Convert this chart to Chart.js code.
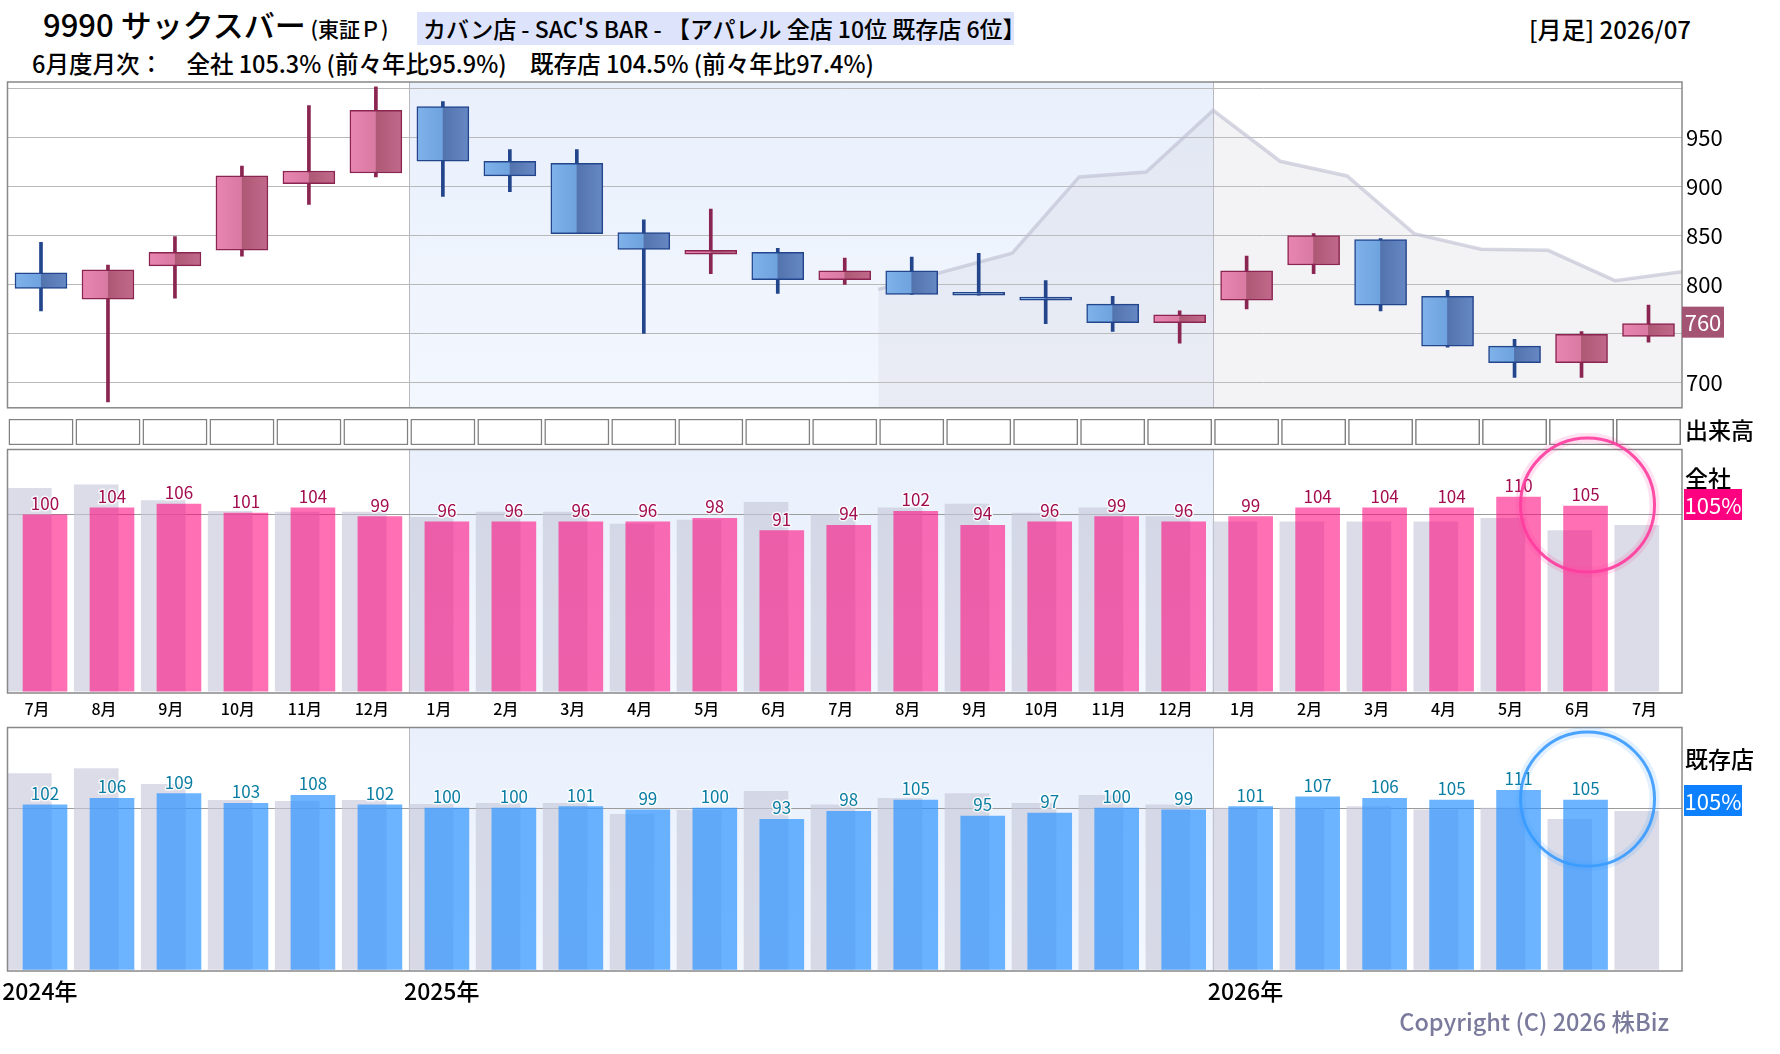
<!DOCTYPE html>
<html lang="ja">
<head>
<meta charset="utf-8">
<title>9990 サックスバー 月足</title>
<script src="https://cdn.jsdelivr.net/npm/chart.js@4/dist/chart.umd.min.js"></script>
<style>
  body { margin: 0; background: #fff; font-family: "Noto Sans CJK JP", "Noto Sans", sans-serif; color: #000; }
  #page { position: relative; width: 1780px; height: 1054px; overflow: hidden; }
  canvas { position: absolute; left: 0; }
  .t { position: absolute; white-space: nowrap; line-height: 1; }
  .badge { position: absolute; left: 1684px; width: 58px; height: 31px; line-height: 31px; color: #fff; font-size: 22px; text-align: center; }
</style>
</head>
<body>
<div id="page">
  <div class="t" style="left:43px; top:8px; font-size:31px; font-weight:500;">9990 サックスバー<span style="font-size:21px;"> (東証Ｐ)</span></div>
  <div class="t" style="left:417px; top:12px; width:597px; height:33px; line-height:33px; background:#dce3fb; font-size:23px; font-weight:500; padding-left:6px; box-sizing:border-box;">カバン店 - SAC'S BAR - 【アパレル 全店 10位 既存店 6位】</div>
  <div class="t" style="right:89px; top:17px; font-size:24px; font-weight:500;">[月足] 2026/07</div>
  <div class="t" style="left:32px; top:52px; font-size:23.5px; font-weight:500;">6月度月次：　全社 105.3% (前々年比95.9%)　既存店 104.5% (前々年比97.4%)</div>

  <canvas id="price" width="1780" height="363" style="top:62px;"></canvas>
  <canvas id="volume" width="1780" height="26" style="top:419px;"></canvas>
  <canvas id="allStore" width="1780" height="293" style="top:430px;"></canvas>
  <canvas id="existStore" width="1780" height="304" style="top:707px;"></canvas>

  <div class="t" style="left:1685px; top:418px; font-size:23px; font-weight:500;">出来高</div>
  <div class="t" style="left:1685px; top:466px; font-size:23px; font-weight:500;">全社</div>
  <div class="badge" style="top:489px; background:#ff0080;">105%</div>
  <div class="t" style="left:1685px; top:747px; font-size:23px; font-weight:500;">既存店</div>
  <div class="badge" style="top:785px; background:#0d80ff;">105%</div>

  <div class="t" style="right:111px; top:1010px; font-size:23.5px; font-weight:500; color:#7a7a9c;">Copyright (C) 2026 株Biz</div>
</div>

<script>
"use strict";

// ── 데이터 (2024/07 〜 2026/07 월봉) ─────────────────────
const months = ["7月","8月","9月","10月","11月","12月","1月","2月","3月","4月","5月","6月",
                "7月","8月","9月","10月","11月","12月","1月","2月","3月","4月","5月","6月","7月"];
const yearLabels = ["2024年", "2025年", "2026年"];

const candleOpen  = [812, 785, 819, 835, 903, 914, 982, 926, 924, 853, 831, 833, 805, 814, 790, 787, 780, 761, 784, 820, 846, 788, 737, 720, 747];
const candleHigh  = [843, 820, 849, 921, 983, 1002, 987, 938, 938, 866, 877, 837, 827, 828, 832, 804, 788, 773, 829, 852, 847, 794, 744, 752, 779];
const candleLow   = [773, 680, 786, 829, 882, 910, 890, 895, 852, 750, 811, 791, 800, 790, 789, 760, 752, 740, 775, 811, 773, 736, 705, 705, 741];
const candleClose = [796, 815, 833, 911, 916, 978, 926, 911, 852, 836, 835, 805, 814, 790, 789, 784, 761, 769, 814, 850, 779, 737, 720, 749, 760];

// 월 경계(0..25) 기준 회색 라인
const trendLine = [null, null, null, null, null, null, null, null, null, null, null, null, null,
                   795, null, 832, 910, 915, 978, 926, 911, 852, 836, 835, 804, 813];

const priceTicks      = [700, 750, 800, 850, 900, 950, 1000];
const priceTickLabels = [700, 800, 850, 900, 950];

// 월차 (전년비 %) — 회색은 전년 동월
const allStores     = [100, 104, 106, 101, 104, 99, 96, 96, 96, 96, 98, 91, 94, 102, 94, 96, 99, 96, 99, 104, 104, 104, 110, 105, null];
const allStoresPrev = [115, 117, 108, 102, 101.5, 101.5, 98.5, 101.5, 101.5, 94.7, 97, 107, 100, 104, 106, 101, 104, 99, 96, 96, 96, 96, 98, 91, 94];
const existing      = [102, 106, 109, 103, 108, 102, 100, 100, 101, 99, 100, 93, 98, 105, 95, 97, 100, 99, 101, 107, 106, 105, 111, 105, null];
const existingPrev  = [121.5, 124.6, 114.7, 104.8, 104.2, 104.8, 102.3, 102.9, 102.9, 96.2, 98.7, 110.4, 102, 106, 109, 103, 108, 102, 100, 100, 101, 99, 100, 93, 98];

// ── 공통 설정 ───────────────────────────────────────────
const FONT = '"Noto Sans CJK JP", "Noto Sans", sans-serif';
Chart.defaults.font.family = FONT;
Chart.defaults.animation = false;
Chart.defaults.plugins.legend.display = false;
Chart.defaults.plugins.tooltip.enabled = false;

const AXIS_W = 98;      // 오른쪽 라벨 영역
const BODY_W = 52;      // 캔들 몸통 폭
const BAR_W  = 44;      // 월차 막대 폭
const CUR_SHIFT  = 0.06;
const PREV_SHIFT = -0.175;

const yearStartIdx = [0].concat(months.map((m, i) => (m === "1月" && i > 0) ? i : -1).filter(i => i > 0));
const isUp = i => candleClose[i] >= candleOpen[i];

const xLinear = () => ({ type: "linear", min: -0.5, max: 24.5, offset: false, display: false });

// 2025년 구간 배경 + 연도 구분선
const yearBand = {
  id: "yearBand",
  beforeDraw(chart) {
    const { ctx, chartArea: a, scales: { x } } = chart;
    const x0 = x.getPixelForValue(yearStartIdx[1] - 0.5);
    const x1 = x.getPixelForValue(yearStartIdx[2] - 0.5);
    const g = ctx.createLinearGradient(0, a.top, 0, a.bottom);
    g.addColorStop(0, "#e9f0fc");
    g.addColorStop(1, "#f3f7fe");
    ctx.save();
    ctx.fillStyle = g;
    ctx.fillRect(x0, a.top, x1 - x0, a.bottom - a.top);
    ctx.strokeStyle = "#b8b8c0";
    ctx.lineWidth = 1;
    [x0, x1].forEach(px => {
      ctx.beginPath();
      ctx.moveTo(Math.round(px) + 0.5, a.top);
      ctx.lineTo(Math.round(px) + 0.5, a.bottom);
      ctx.stroke();
    });
    ctx.restore();
  },
};

const frame = {
  id: "frame",
  afterDraw(chart) {
    const { ctx, chartArea: a } = chart;
    ctx.save();
    ctx.strokeStyle = "#888";
    ctx.lineWidth = 1.5;
    ctx.strokeRect(a.left, a.top, a.right - a.left, a.bottom - a.top);
    ctx.restore();
  },
};

// ── 캔들 몸통 그라디언트 ─────────────────────────────────
function bodyFill(c) {
  const i = c.dataIndex;
  const xs = c.chart.scales && c.chart.scales.x;
  if (i === undefined || !xs) return "#d97aa3";
  const cx = xs.getPixelForValue(i);
  if (!isFinite(cx)) return isUp(i) ? "#d97aa3" : "#6ea3df";
  const g = c.chart.ctx.createLinearGradient(cx - BODY_W / 2, 0, cx + BODY_W / 2, 0);
  if (isUp(i)) {
    g.addColorStop(0, "#e886b0"); g.addColorStop(0.49, "#d97aa3");
    g.addColorStop(0.5, "#ad5874"); g.addColorStop(1, "#c2698b");
  } else {
    g.addColorStop(0, "#80b2ea"); g.addColorStop(0.49, "#6ea3df");
    g.addColorStop(0.5, "#5373ad"); g.addColorStop(1, "#6688c4");
  }
  return g;
}
const edgeColor = c => (c.dataIndex !== undefined && isUp(c.dataIndex)) ? "#8a2450" : "#23458c";

// 현재가 배지
const lastPrice = {
  id: "lastPrice",
  afterDraw(chart) {
    const { ctx, chartArea: a, scales: { y } } = chart;
    const v = candleClose[candleClose.length - 1];
    const py = y.getPixelForValue(v);
    ctx.save();
    ctx.fillStyle = "#a35472";
    ctx.fillRect(a.right, py - 17, 42, 31);
    ctx.fillStyle = "#fff";
    ctx.font = "22px " + FONT;
    ctx.textAlign = "center";
    ctx.textBaseline = "middle";
    ctx.fillText(String(v), a.right + 21, py - 1);
    ctx.restore();
  },
};

new Chart(document.getElementById("price"), {
  type: "bar",
  data: {
    datasets: [
      {
        data: candleOpen.map((o, i) => ({ x: i, y: [o, candleClose[i]] })),
        grouped: false,
        barThickness: BODY_W,
        minBarLength: 3,
        backgroundColor: bodyFill,
        borderColor: edgeColor,
        borderWidth: 1.5,
        borderSkipped: false,
      },
      {
        data: candleLow.map((l, i) => ({ x: i, y: [l, candleHigh[i]] })),
        grouped: false,
        barThickness: 3,
        backgroundColor: edgeColor,
        borderWidth: 0,
      },
      {
        type: "line",
        data: trendLine.map((v, k) => ({ x: k - 0.5, y: v })),
        borderColor: "rgba(188,188,208,0.6)",
        borderWidth: 3.5,
        backgroundColor: "rgba(200,200,215,0.22)",
        fill: "start",
        spanGaps: true,
        pointRadius: 0,
        tension: 0,
      },
    ],
  },
  options: {
    responsive: false,
    maintainAspectRatio: false,
    layout: { padding: { left: 7.5, right: 0, top: 20, bottom: 10 } },
    scales: {
      x: xLinear(),
      y: {
        position: "right",
        min: 674,
        max: 1007,
        afterBuildTicks: s => { s.ticks = priceTicks.map(v => ({ value: v })); },
        afterFit: s => { s.width = AXIS_W; },
        grid: { color: "#b9b9b9", drawTicks: false },
        border: { display: false },
        ticks: {
          padding: 4,
          color: "#000",
          font: { size: 22 },
          callback: v => priceTickLabels.includes(v) ? String(v) : "",
        },
      },
    },
  },
  plugins: [yearBand, frame, lastPrice],
});

// ── 출래고 (빈 칸) ───────────────────────────────────────
new Chart(document.getElementById("volume"), {
  type: "bar",
  data: {
    datasets: [{
      data: months.map((m, i) => ({ x: i, y: 1 })),
      barThickness: 64.3,
      backgroundColor: "#fff",
      borderColor: "#808080",
      borderWidth: 1.5,
      borderSkipped: false,
    }],
  },
  options: {
    responsive: false,
    maintainAspectRatio: false,
    layout: { padding: { left: 7.5, right: AXIS_W, top: 0, bottom: 0 } },
    scales: { x: xLinear(), y: { min: 0, max: 1, display: false } },
  },
});

// ── 월차 막대 패널 ───────────────────────────────────────
function valueLabels(color) {
  return {
    id: "valueLabels",
    afterDatasetsDraw(chart) {
      const ctx = chart.ctx;
      const pts = chart.data.datasets[0].data;
      ctx.save();
      ctx.font = "17px " + FONT;
      ctx.textAlign = "center";
      ctx.textBaseline = "alphabetic";
      ctx.lineJoin = "round";
      chart.getDatasetMeta(0).data.forEach((bar, i) => {
        if (pts[i].y == null) return;
        ctx.strokeStyle = "rgba(255,255,255,0.8)";
        ctx.lineWidth = 3;
        ctx.strokeText(String(pts[i].y), bar.x, bar.y - 5);
        ctx.fillStyle = color;
        ctx.fillText(String(pts[i].y), bar.x, bar.y - 5);
      });
      ctx.restore();
    },
  };
}

function ring(color) {
  return {
    id: "ring",
    afterDraw(chart) {
      const pts = chart.data.datasets[0].data;
      let last = -1;
      pts.forEach((p, i) => { if (p.y != null) last = i; });
      const bar = chart.getDatasetMeta(0).data[last];
      const ctx = chart.ctx;
      ctx.save();
      ctx.strokeStyle = color;
      ctx.globalAlpha = 0.15;
      ctx.lineWidth = 10;
      ctx.beginPath(); ctx.arc(bar.x + 2, bar.y - 1, 67, 0, Math.PI * 2); ctx.stroke();
      ctx.globalAlpha = 0.9;
      ctx.lineWidth = 3;
      ctx.beginPath(); ctx.arc(bar.x + 2, bar.y - 1, 67, 0, Math.PI * 2); ctx.stroke();
      ctx.restore();
    },
  };
}

function barPanel(id, cur, prev, opt) {
  return new Chart(document.getElementById(id), {
    type: "bar",
    data: {
      datasets: [
        {
          data: cur.map((v, i) => ({ x: i + CUR_SHIFT, y: v })),
          grouped: false,
          barThickness: BAR_W,
          backgroundColor: opt.barColor,
          borderWidth: 0,
        },
        {
          data: prev.map((v, i) => ({ x: i + PREV_SHIFT, y: v })),
          grouped: false,
          barThickness: BAR_W,
          backgroundColor: "rgba(200,202,218,0.65)",
          borderWidth: 0,
        },
      ],
    },
    options: {
      responsive: false,
      maintainAspectRatio: false,
      layout: { padding: { left: 7.5, right: 0, top: opt.padTop, bottom: 0 } },
      scales: {
        x: {
          type: "linear",
          min: -0.5,
          max: 24.5,
          offset: false,
          afterBuildTicks: opt.xTicks,
          afterFit: s => { s.height = opt.axisH; s.paddingLeft = 0; s.paddingRight = 0; },
          grid: { display: false },
          border: { display: false },
          ticks: {
            autoSkip: false,
            maxRotation: 0,
            align: opt.align,
            padding: opt.tickPad,
            color: "#000",
            font: { size: opt.tickSize, weight: "500" },
            callback: opt.tickLabel,
          },
        },
        y: {
          position: "right",
          min: -1,
          max: opt.yMax,
          afterBuildTicks: s => { s.ticks = [{ value: 100 }]; },
          afterFit: s => { s.width = AXIS_W; },
          grid: { color: "#9c9c9c", drawTicks: false },
          border: { display: false },
          ticks: { display: false },
        },
      },
    },
    plugins: [yearBand, frame, valueLabels(opt.labelColor), ring(opt.ringColor)],
  });
}

barPanel("allStore", allStores, allStoresPrev, {
  barColor: "rgba(255,1,123,0.57)",
  labelColor: "#a30d4f",
  ringColor: "#ff3d9e",
  yMax: 137,
  padTop: 19.5,
  axisH: 30,
  tickPad: -2,
  tickSize: 16,
  align: "center",
  xTicks: s => { s.ticks = months.map((m, i) => ({ value: i - 0.06 })); },
  tickLabel: (v, i) => months[i],
});

barPanel("existStore", existing, existingPrev, {
  barColor: "rgba(49,150,255,0.714)",
  labelColor: "#0b7ea3",
  ringColor: "#3a9bff",
  yMax: 150,
  padTop: 20.5,
  axisH: 40,
  tickPad: -2,
  tickSize: 23,
  align: "start",
  xTicks: s => { s.ticks = yearStartIdx.map(i => ({ value: i - 0.58 })); },
  tickLabel: (v, i) => yearLabels[i],
});
</script>
</body>
</html>
